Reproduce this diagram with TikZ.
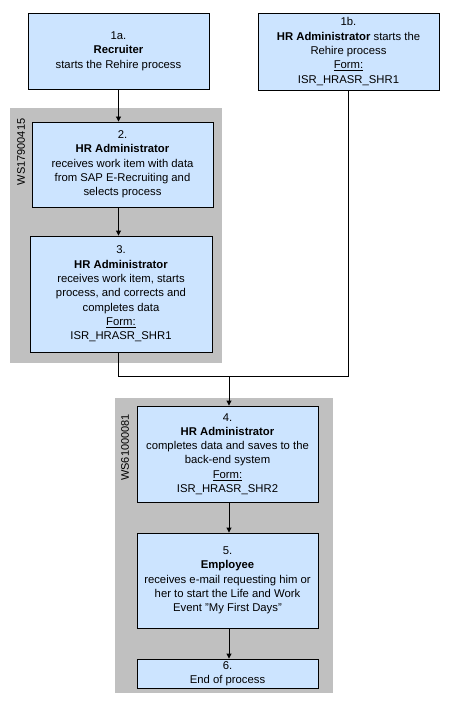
\documentclass[tikz,border=0pt]{standalone}
\usepackage{fontspec}
\setmainfont{Liberation Sans}
\usetikzlibrary{arrows.meta}
\definecolor{boxblue}{RGB}{204,228,255}
\definecolor{grpgray}{RGB}{192,192,192}
\begin{document}
\begin{tikzpicture}[x=1pt,y=-1pt,
  stepbox/.style={draw=black, line width=0.9pt, fill=boxblue, align=center, inner sep=0pt,
    font=\fontsize{11.3}{14.3}\selectfont},
  grp/.style={fill=grpgray, draw=none},
  grplabel/.style={rotate=90, font=\fontsize{11}{12}\selectfont, inner sep=0pt},
  conn/.style={draw=black, line width=0.9pt},
  arr/.style={conn, -{Triangle[length=5pt,width=5pt]}}]
\useasboundingbox (0,0) rectangle (458,714);
\fill[white] (0,0) rectangle (458,714);
% groups
\fill[grp] (10,108) rectangle (222,363);
\fill[grp] (115,398) rectangle (333,693);
\node[grplabel] (g1) at (21,152) {WS17900415};
\node[grplabel] (g2) at (125,447.5) {WS61000081};
% boxes
\node[stepbox, minimum width=181, minimum height=76] (n1a) at (118.5,51) {1a.\\\textbf{Recruiter}\\starts the Rehire process};
\node[stepbox, minimum width=181, minimum height=77] (n1b) at (348.5,51.5) {1b.\\\textbf{HR Administrator} starts the\\Rehire process\\\underline{Form:}\\ISR\_HRASR\_SHR1};
\node[stepbox, minimum width=181, minimum height=85] (n2) at (122.5,164.5) {2.\\\textbf{HR Administrator}\\receives work item with data\\from SAP E-Recruiting and\\selects process};
\node[stepbox, minimum width=182, minimum height=116] (n3) at (121,294) {3.\\\textbf{HR Administrator}\\receives work item, starts\\process, and corrects and\\completes data\\\underline{Form:}\\ISR\_HRASR\_SHR1};
\node[stepbox, minimum width=181, minimum height=96] (n4) at (227.5,454) {4.\\\textbf{HR Administrator}\\completes data and saves to the\\back-end system\\\underline{Form:}\\ISR\_HRASR\_SHR2};
\node[stepbox, minimum width=181, minimum height=95] (n5) at (227.5,580.5) {5.\\\textbf{Employee}\\receives e-mail requesting him or\\her to start the Life and Work\\Event \char34 My First Days\char34};
\node[stepbox, minimum width=181, minimum height=29] (n6) at (227.5,673.5) {6.\\End of process};
% connectors
\coordinate (j) at (229,376);
\draw[arr] (n1a.south) -- (n1a.south |- n2.north);
\draw[arr] (n1a.south |- n2.south) -- (n1a.south |- n3.north);
\draw[conn] (n1a.south |- n3.south) |- (n1b.south |- j) -- (n1b.south);
\draw[arr] (j) -- (j |- n4.north);
\draw[arr] (j |- n4.south) -- (j |- n5.north);
\draw[arr] (j |- n5.south) -- (j |- n6.north);
\end{tikzpicture}
\end{document}
